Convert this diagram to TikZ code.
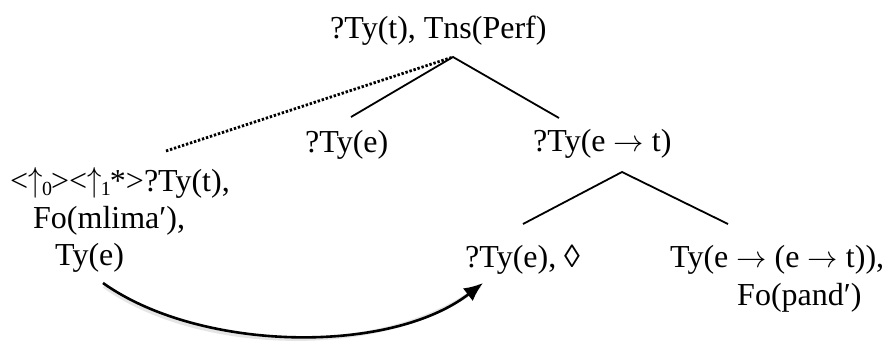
\documentclass[tikz,border=0pt]{standalone}
\usepackage{fontspec}
\usepackage{graphicx}
\setmainfont{Liberation Serif}
\usetikzlibrary{arrows.meta}
\newcommand\rar{\scalebox{1.22}{$\rightarrow$}}
\newcommand\upsub[1]{\scalebox{1.15}[1.4]{$\uparrow$}\kern-0.5pt\raisebox{-0.3ex}{\fontsize{20}{20}\selectfont #1}\kern-1pt}
\begin{document}
\begin{tikzpicture}[x=1pt,y=-1pt,
  lbl/.style={inner sep=0pt, anchor=base west, font=\fontsize{32}{37}\selectfont},
  branch/.style={line width=1.8pt},
  dotline/.style={line width=2.8pt, dash pattern=on 2.4pt off 1.8pt},
  movearrow/.style={line width=2.6pt, -{Latex[length=19pt,width=16pt]}},
  shadowline/.style={line width=4pt, black!25, opacity=0.4}]
\useasboundingbox (0,0) rectangle (890,340);
% nodes
\node[lbl] (root) at (330,38) {?Ty(t), Tns(Perf)};
\node[lbl] (tye) at (305,152) {?Ty(e)};
\node[lbl] (tyet) at (533,151) {?Ty(e \rar\ t)};
\node[lbl] (ul1) at (10,191) {<\upsub{0}><\upsub{1}*>?Ty(t),};
\node[lbl] (ul2) at (33,228) {Fo(mlima′),};
\node[lbl] (ul3) at (55,265) {Ty(e)};
\node[lbl] (ptr) at (465,267) {?Ty(e), ◊};
\node[lbl] (pred) at (670,267) {Ty(e \rar\ (e \rar\ t)),};
\node[lbl] (pred2) at (737,305) {Fo(pand′)};
% branch points
\coordinate (a1) at (453,57);
\coordinate (l1) at (351,117);
\coordinate (r1) at (559,118);
\coordinate (a2) at (622,172);
\coordinate (l2) at (523,224);
\coordinate (r2) at (728,224);
\coordinate (d1) at (166,151);
\coordinate (cs) at (103,283);
\coordinate (ce) at (483,283);
% tree
\draw[branch] (l1) -- (a1) -- (r1);
\draw[branch] (l2) -- (a2) -- (r2);
\draw[dotline] (d1) -- (a1);
% arrow
\draw[shadowline] ([shift={(1,3)}]cs) .. controls (200,355) and (390,358) .. ([shift={(-3,3)}]ce);
\draw[movearrow] (cs) .. controls (200,352) and (390,355) .. (ce);
\end{tikzpicture}
\end{document}
